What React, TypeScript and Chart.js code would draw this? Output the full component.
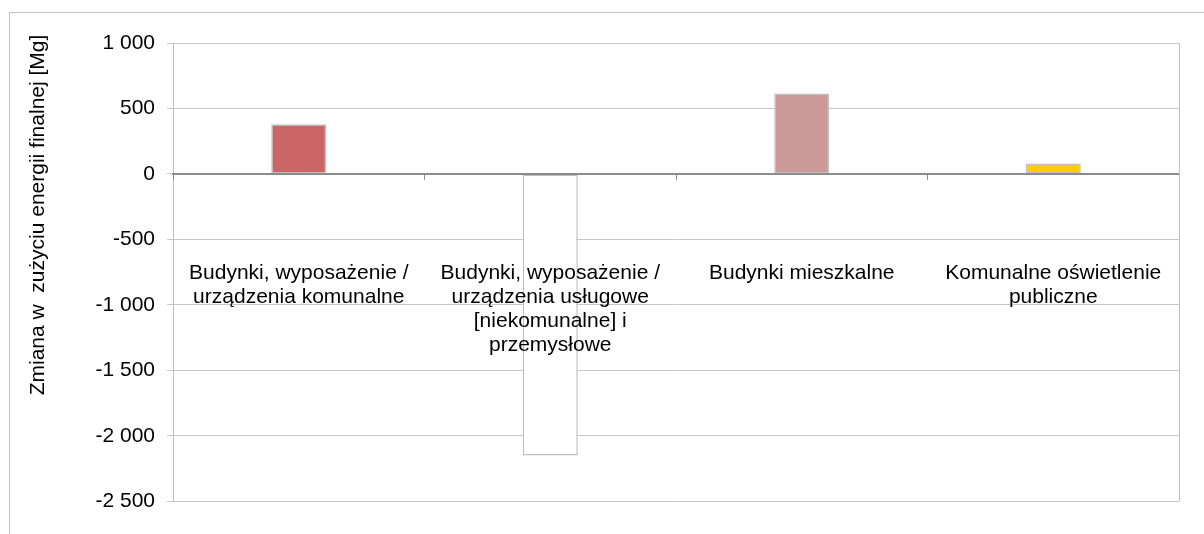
import React, { useEffect, useRef } from "react";
import { Chart, registerables } from "chart.js";

Chart.register(...registerables);

// Sectors and the change in final energy use for each of them [Mg]
const categories: string[][] = [
  ["Budynki, wyposażenie /", "urządzenia komunalne"],
  ["Budynki, wyposażenie /", "urządzenia usługowe", "[niekomunalne] i", "przemysłowe"],
  ["Budynki mieszkalne"],
  ["Komunalne oświetlenie", "publiczne"],
];
const changeValues: number[] = [380, -2150, 615, 80];
const barColors: string[] = ["#CC6666", "#FFFFFF", "#CC9999", "#FFCC00"];

const yMin = -2500;
const yMax = 1000;
const yStep = 500;
const yTitle = "Zmiana w  zużyciu energii finalnej [Mg]";

const FONT = "'Liberation Sans', Arial, 'DejaVu Sans', sans-serif";

// "1 000", "-2 500": thousands grouped with a space
function formatTick(v: number): string {
  const sign = v < 0 ? "-" : "";
  const digits = String(Math.abs(Math.round(v)));
  return sign + digits.replace(/\B(?=(\d{3})+(?!\d))/g, " ");
}

// Rotated axis title plus the right edge of the plot frame
const decorations = {
  id: "decorations",
  afterDraw(chart: Chart) {
    const { ctx, chartArea } = chart;
    ctx.save();
    ctx.strokeStyle = "#BFBFBF";
    ctx.lineWidth = 1;
    ctx.beginPath();
    ctx.moveTo(Math.round(chartArea.right) + 0.5, chartArea.top);
    ctx.lineTo(Math.round(chartArea.right) + 0.5, chartArea.bottom);
    ctx.stroke();

    ctx.translate(30, 207);
    ctx.rotate(-Math.PI / 2);
    ctx.fillStyle = "#000000";
    ctx.font = `21px ${FONT}`;
    ctx.textAlign = "center";
    ctx.textBaseline = "middle";
    ctx.fillText(yTitle, 0, 0);
    ctx.restore();
  },
};

export default function App() {
  const canvasRef = useRef<HTMLCanvasElement | null>(null);

  useEffect(() => {
    if (!canvasRef.current) return;
    const chart = new Chart(canvasRef.current, {
      type: "bar",
      data: {
        labels: categories,
        datasets: [
          {
            data: changeValues,
            backgroundColor: barColors,
            borderColor: "#BFBFBF",
            borderWidth: 1.5,
            borderSkipped: false,
            categoryPercentage: 1,
            barPercentage: 0.219,
          },
        ],
      },
      plugins: [decorations],
      options: {
        responsive: false,
        animation: false,
        layout: { padding: { left: 0, right: 17, top: 35, bottom: 23 } },
        plugins: {
          legend: { display: false },
          tooltip: { enabled: false },
          title: { display: false },
        },
        scales: {
          x: {
            type: "category",
            position: { y: 0 },
            offset: true,
            afterFit(scale: any) {
              scale.paddingLeft = 0;
              scale.paddingRight = 0;
            },
            grid: {
              offset: true,
              drawOnChartArea: false,
              drawTicks: true,
              tickLength: 5,
              color: "#8C8C8C",
              z: 1,
            },
            border: { display: true, color: "#8C8C8C", width: 2, z: 1 },
            ticks: {
              z: 2,
              padding: 82,
              autoSkip: false,
              maxRotation: 0,
              minRotation: 0,
              color: "#000000",
              font: { family: FONT, size: 21, lineHeight: 24 / 21 },
            },
          },
          y: {
            type: "linear",
            min: yMin,
            max: yMax,
            afterFit(scale: any) {
              scale.width = 165;
            },
            grid: {
              color: "#C8C8C8",
              lineWidth: 1,
              tickLength: 6,
            },
            border: { display: true, color: "#BFBFBF", width: 1 },
            ticks: {
              stepSize: yStep,
              padding: 12,
              color: "#000000",
              font: { family: FONT, size: 21 },
              callback: (v: any) => formatTick(Number(v)),
            },
          },
        },
      },
    });
    return () => chart.destroy();
  }, []);

  return (
    <div style={{ position: "relative", width: 1188, height: 518 }}>
      {/* outer chart frame, running off the right and bottom of the window */}
      <div
        style={{
          position: "fixed",
          left: 9,
          top: 12,
          right: 0,
          bottom: 0,
          borderTop: "1px solid #C4C4C4",
          borderLeft: "1px solid #C4C4C4",
          pointerEvents: "none",
        }}
      />
      <canvas
        ref={canvasRef}
        width={1188}
        height={518}
        style={{ position: "absolute", left: 0, top: 0, width: 1188, height: 518 }}
      />
    </div>
  );
}
